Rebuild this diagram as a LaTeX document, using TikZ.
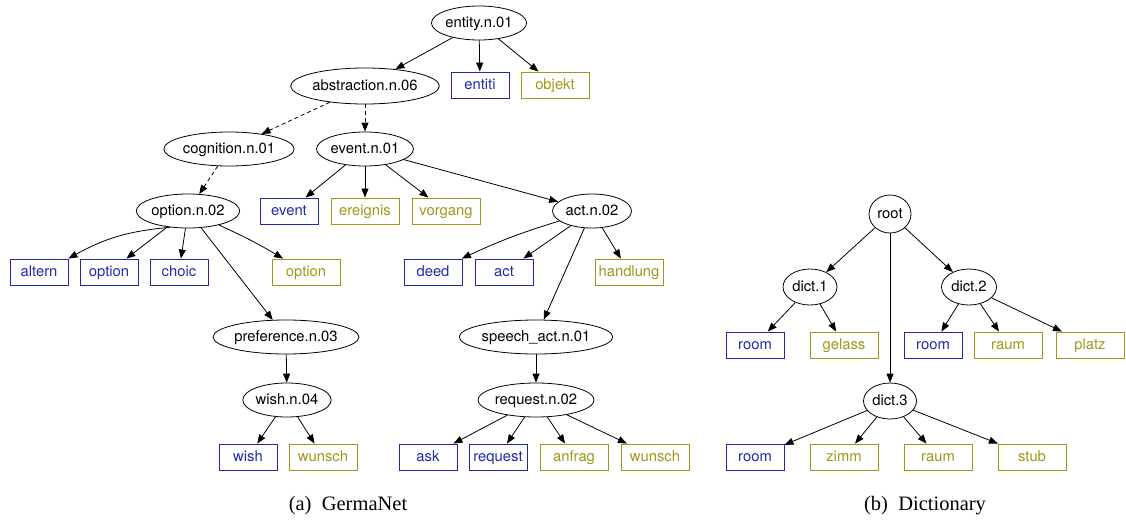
\documentclass[tikz,border=0pt]{standalone}
\usepackage{fontspec}
\setmainfont{TeX Gyre Heros}
\newfontfamily\capfont{Liberation Serif}
\usetikzlibrary{arrows.meta,shapes.geometric}
\definecolor{gblue}{RGB}{30,42,170}
\definecolor{golive}{RGB}{160,150,24}
\tikzset{
  nodefont/.style={font=\fontsize{14.8}{16}\selectfont,text height=11.6pt,text depth=2.6pt},
  syn/.style={ellipse,draw=black,line width=0.8pt,inner sep=0pt,minimum height=34pt,minimum width=#1,nodefont},
  bw/.style={rectangle,draw=gblue,text=gblue,line width=0.9pt,inner sep=0pt,minimum height=26pt,minimum width=#1,nodefont},
  bo/.style={rectangle,draw=golive,text=golive,line width=0.9pt,inner sep=0pt,minimum height=26pt,minimum width=#1,nodefont},
  arr/.style={-{Triangle[length=9pt,width=7pt]},line width=0.8pt,black},
  darr/.style={arr,dash pattern=on 4pt off 3pt},
  captext/.style={font=\capfont\fontsize{20.5}{24}\selectfont}
}
\begin{document}
\begin{tikzpicture}[x=1pt,y=-1pt]
\useasboundingbox (0,0) rectangle (1126,520);
% GermaNet
\node[syn=93pt] (entity) at (479,23) {entity.n.01};
\node[syn=140pt,minimum height=36pt] (abstr) at (365,86) {abstraction.n.06};
\node[bw=58pt] (entiti) at (480,85) {entiti};
\node[bo=68pt] (objekt) at (555,85) {objekt};
\node[syn=123pt] (cogn) at (229,149) {cognition.n.01};
\node[syn=94pt] (eventn) at (365,149) {event.n.01};
\node[syn=100pt] (optn) at (188,211) {option.n.02};
\node[bw=58pt] (eventb) at (289,211) {event};
\node[bo=68pt] (ereignis) at (365,211) {ereignis};
\node[bo=68pt] (vorgang) at (446,211) {vorgang};
\node[syn=79pt] (actn) at (592,211) {act.n.02};
\node[bw=58pt] (altern) at (39,272) {altern};
\node[bw=58pt] (optb) at (109,272) {option};
\node[bw=58pt] (choic) at (179,272) {choic};
\node[bo=68pt] (opto) at (306,272) {option};
\node[bw=58pt] (deed) at (433,272) {deed};
\node[bw=58pt] (actb) at (504,272) {act};
\node[bo=68pt] (handlung) at (629,272) {handlung};
\node[syn=137pt] (pref) at (286,337) {preference.n.03};
\node[syn=143pt] (speech) at (536,337) {speech\_act.n.01};
\node[syn=87pt] (wishn) at (287,400) {wish.n.04};
\node[syn=111pt] (reqn) at (536,400) {request.n.02};
\node[bw=58pt] (wishb) at (248,457) {wish};
\node[bo=68pt] (wunscha) at (323,457) {wunsch};
\node[bw=58pt] (ask) at (428,457) {ask};
\node[bw=58pt] (reqb) at (498,457) {request};
\node[bo=68pt] (anfrag) at (574,457) {anfrag};
\node[bo=68pt] (wunschb) at (655,457) {wunsch};
% Dictionary
\node[syn=42pt,minimum height=38pt] (root) at (890,214) {root};
\node[syn=54pt,minimum height=36pt] (d1) at (810,287) {dict.1};
\node[syn=55pt,minimum height=36pt] (d2) at (969,287) {dict.2};
\node[syn=53pt,minimum height=36pt] (d3) at (890,401) {dict.3};
\node[bw=58pt] (room1) at (755,345) {room};
\node[bo=68pt] (gelass) at (844,345) {gelass};
\node[bw=58pt] (room2) at (933,345) {room};
\node[bo=68pt] (raum1) at (1008,345) {raum};
\node[bo=68pt] (platz) at (1090,345) {platz};
\node[bw=58pt] (room3) at (755,457) {room};
\node[bo=68pt] (zimm) at (844,457) {zimm};
\node[bo=68pt] (raum2) at (938,457) {raum};
\node[bo=68pt] (stub) at (1032,457) {stub};
% captions
\node[captext] (capa) at (348,506) {(a)\hspace{0.5em}GermaNet};
\node[captext] (capb) at (925,506) {(b)\hspace{0.5em}Dictionary};
% edges
\draw[arr] (entity) -- (abstr);
\draw[arr] (entity) -- (entiti);
\draw[arr] (entity) -- (objekt);
\draw[darr] (abstr) -- (cogn);
\draw[darr] (abstr) -- (eventn);
\draw[darr] (cogn) -- (optn);
\draw[arr] (optn.222) to[bend right=12] (altern.north east);
\draw[arr] (optn) -- (optb);
\draw[arr] (optn) -- (choic);
\draw[arr] (optn) to[bend left=3] (opto);
\draw[arr] (optn) -- (pref);
\draw[arr] (pref) -- (wishn);
\draw[arr] (wishn) -- (wishb);
\draw[arr] (wishn) -- (wunscha);
\draw[arr] (eventn) -- (eventb);
\draw[arr] (eventn) -- (ereignis);
\draw[arr] (eventn) -- (vorgang);
\draw[arr] (eventn) -- (actn);
\draw[arr] (actn) to[bend right=4] (deed);
\draw[arr] (actn) -- (actb);
\draw[arr] (actn) -- (handlung);
\draw[arr] (actn) -- (speech);
\draw[arr] (speech) -- (reqn);
\draw[arr] (reqn) -- (ask);
\draw[arr] (reqn) -- (reqb);
\draw[arr] (reqn) -- (anfrag);
\draw[arr] (reqn) -- (wunschb);
\draw[arr] (root) -- (d1);
\draw[arr] (root) -- (d2);
\draw[arr] (root) -- (d3);
\draw[arr] (d1) -- (room1);
\draw[arr] (d1) -- (gelass);
\draw[arr] (d2) -- (room2);
\draw[arr] (d2) -- (raum1);
\draw[arr] (d2) -- (platz);
\draw[arr] (d3) -- (room3);
\draw[arr] (d3) -- (zimm);
\draw[arr] (d3) -- (raum2);
\draw[arr] (d3) -- (stub);
\end{tikzpicture}
\end{document}
